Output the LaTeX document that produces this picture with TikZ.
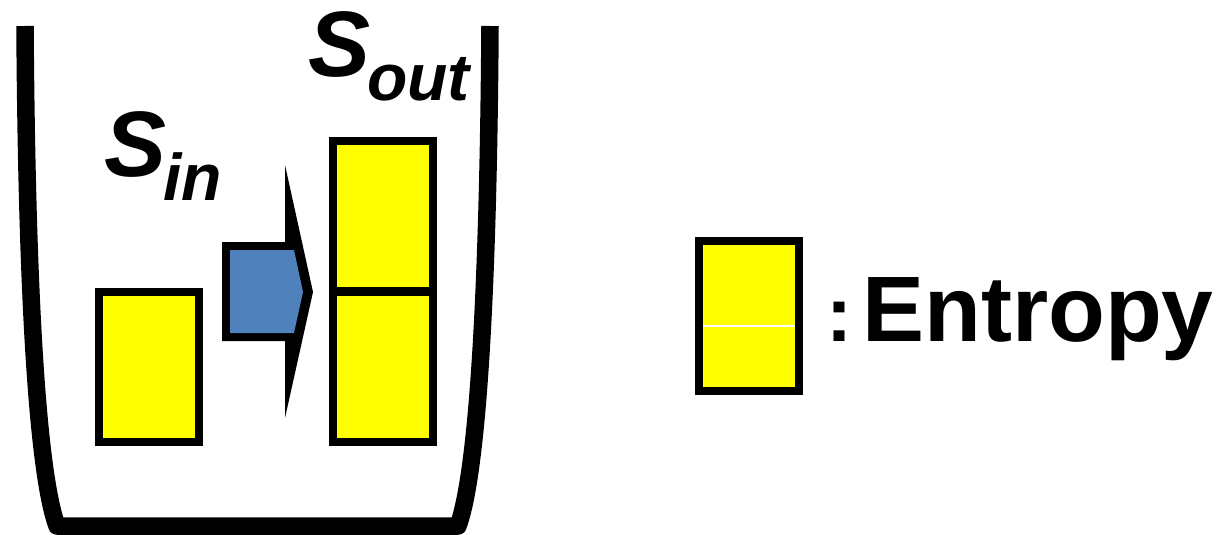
\documentclass[tikz,border=0pt]{standalone}
\usepackage{fontspec}
\setmainfont{Liberation Sans}
\definecolor{entyellow}{HTML}{FFFF00}
\definecolor{arrowblue}{HTML}{4F81BD}
\begin{document}
\begin{tikzpicture}[x=1pt,y=-1pt,
  entbox/.style={draw=black, fill=entyellow, line width=8pt, minimum width=100pt, minimum height=150pt, inner sep=0pt, outer sep=0pt},
  bigtxt/.style={font=\fontsize{93}{93}\selectfont\bfseries\itshape, inner sep=0pt, anchor=base west},
  subtxt/.style={font=\fontsize{66}{66}\selectfont\bfseries\itshape, inner sep=0pt, anchor=base west},
  legtxt/.style={font=\fontsize{93}{93}\selectfont\bfseries, inner sep=0pt, anchor=base west},
  coltxt/.style={font=\fontsize{78}{78}\selectfont\bfseries, inner sep=0pt, anchor=base west}]
\useasboundingbox (0,0) rectangle (1227,535);
% container
\draw[line width=17.5pt, line join=round, line cap=butt]
  (25,26) .. controls (27,330) and (40,480) .. (57,526) -- (458,526)
  .. controls (475,480) and (488,330) .. (490,26);
% entropy boxes
\node[entbox] (sin) at (149,367) {};
\node[entbox] (souttop) at (382.5,216) {};
\node[entbox] (soutbot) at (382.5,366.5) {};
% arrow
\fill[black] (222,242) -- (285,242) -- (285,165) -- (313,292) -- (285,418) -- (285,341) -- (222,341) -- cycle;
\fill[arrowblue] (230,250) -- (294,250) -- (303,292) -- (294,333) -- (230,333) -- cycle;
% labels
\node[bigtxt] (S1) at (104,176) {S};
\node[subtxt] (S1sub) at (163,200) {in};
\node[bigtxt] (S2) at (308,77) {S};
\node[subtxt] (S2sub) at (367,100) {out};
% legend
\node[entbox] (leg) at (749,316) {};
\draw[white, line width=1.2pt] (703,326) -- (795,326);
\node[coltxt] (colon) at (826,341) {:};
\node[legtxt] (ent) at (862,341) {Entropy};
\end{tikzpicture}
\end{document}
